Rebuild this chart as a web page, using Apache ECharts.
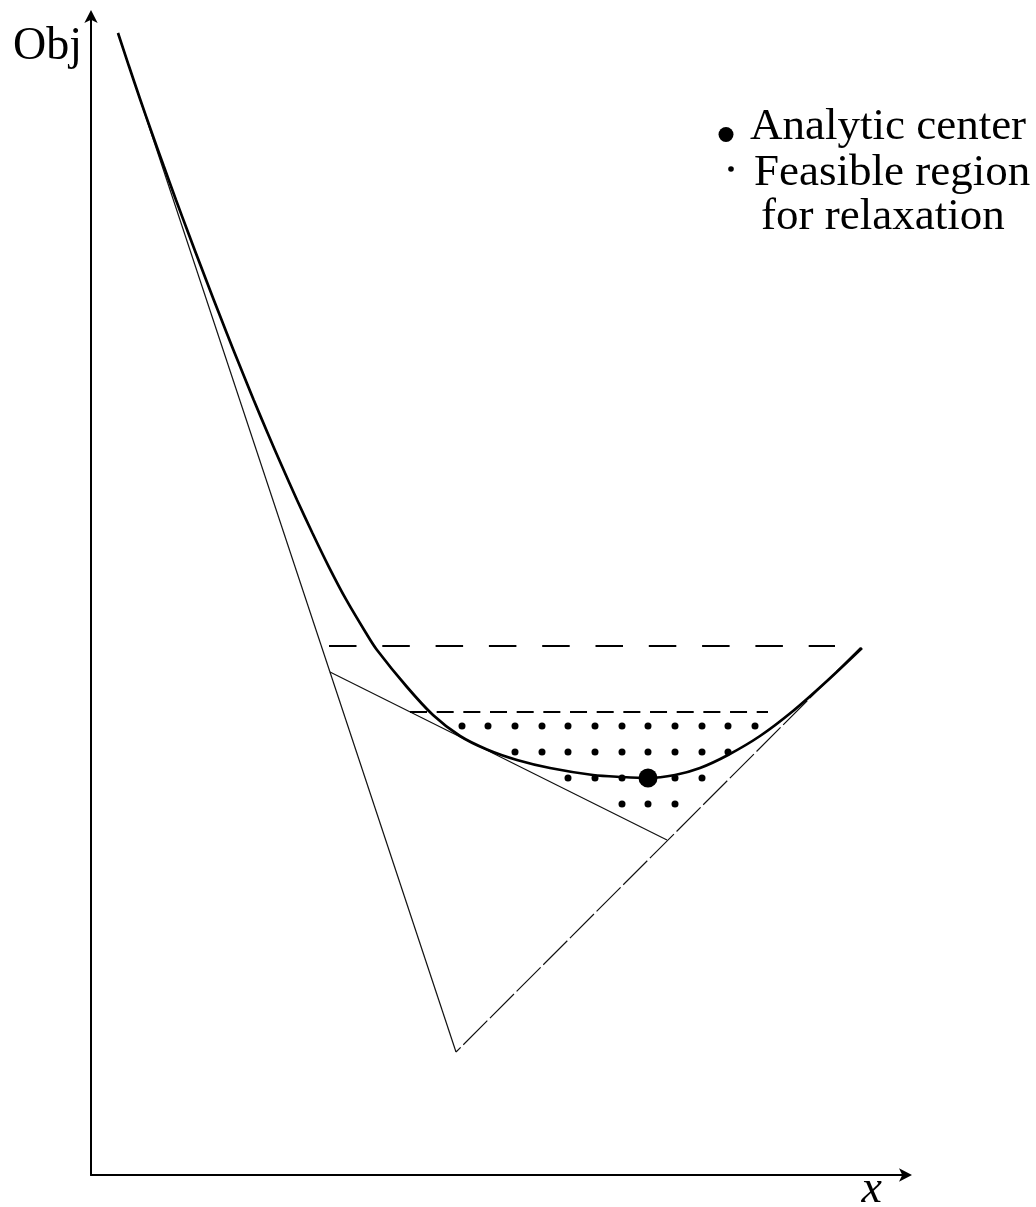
<!DOCTYPE html>
<html>
<head>
<meta charset="utf-8">
<script src="https://cdn.jsdelivr.net/npm/echarts@6/dist/echarts.min.js"></script>
<style>
html,body{margin:0;padding:0;background:#fff;width:1036px;height:1207px;overflow:hidden;}
#chart{position:absolute;left:0;top:0;width:1036px;height:1207px;overflow:hidden;}
</style>
</head>
<body>
<div id="chart"></div>
<script>
// ---- data (x, Obj) in chart units ----
const curveX = [27, 38, 49.3, 60.9, 72.8, 84.9, 97.3, 109.9, 122.7, 135.7, 149, 162.6, 176.6, 191, 205.9, 221.4, 237.6, 255.2, 275, 286, 316, 342, 369, 396, 426, 459, 502, 531, 557, 584, 609, 637, 669, 702, 736, 771];
const curveY = [1142, 1108.7, 1075.3, 1042, 1008.7, 975.3, 942, 908.7, 875.3, 842, 808.7, 775.3, 742, 708.7, 675.3, 642, 608.7, 575.3, 542, 525, 488, 460, 439, 425.5, 415, 407, 400, 398, 397, 400, 407, 420, 439, 464, 494, 527];

const steepLine = [[27, 1142], [365, 123]];
const tangentLine = [[239, 503], [576, 335]];
const diagDashed = [[365, 123], [771, 529]];
const upperBound = [[238, 529], [744, 529]];
const lowerBound = [[319, 463], [677, 463]];

const rowY = [449, 423, 397, 371];
const row1X = [371, 397, 424, 451, 477, 504, 531, 557, 584, 611, 637, 664];
const row2X = [424, 451, 477, 504, 531, 557, 584, 611, 637];
const row3X = [477, 504, 531, 584, 611];
const row4X = [531, 557, 584];
const analyticCenter = [[557, 397]];

const xName = 'x';
const yName = 'Obj';
const legendLabels = ['Analytic center', 'Feasible region', 'for relaxation'];

// ---- build ----
const curve = curveX.map((x, i) => [x, curveY[i]]);
const feasible = []
  .concat(row1X.map(x => [x, rowY[0]]))
  .concat(row2X.map(x => [x, rowY[1]]))
  .concat(row3X.map(x => [x, rowY[2]]))
  .concat(row4X.map(x => [x, rowY[3]]));

const FONT = '"Liberation Serif", "DejaVu Serif", serif';
const LFONT = '45px ' + FONT;

const axisCommon = {
  type: 'value',
  axisLine: { show: true, onZero: false, symbol: ['none', 'arrow'], symbolSize: [10, 13], symbolOffset: [0, 3],
              lineStyle: { color: '#000', width: 2 } },
  axisTick: { show: false },
  axisLabel: { show: false },
  splitLine: { show: false }
};

const chart = echarts.init(document.getElementById('chart'), null, { renderer: 'canvas', width: 1036, height: 1207 });
chart.setOption({
  animation: false,
  backgroundColor: '#fff',
  grid: { left: 91, top: 13, right: 127, bottom: 32, containLabel: false, outerBoundsMode: 'none' },
  xAxis: Object.assign({}, axisCommon, {
    min: 0, max: 818,
    name: xName, nameLocation: 'end', nameGap: 0,
    nameTextStyle: { fontFamily: FONT, fontSize: 46, fontStyle: 'italic', color: '#000',
                     align: 'right', verticalAlign: 'top', lineHeight: 30, padding: [0, 27, 0, 0] }
  }),
  yAxis: Object.assign({}, axisCommon, {
    min: 0, max: 1162,
    name: yName, nameLocation: 'end', nameGap: 0,
    nameTextStyle: { fontFamily: FONT, fontSize: 46, color: '#000',
                     align: 'right', verticalAlign: 'top', lineHeight: 46, padding: [11, 9, 0, 0] }
  }),
  series: [
    { type: 'line', data: steepLine, showSymbol: false, silent: true,
      lineStyle: { color: '#111', width: 1.2 } },
    { type: 'line', data: tangentLine, showSymbol: false, silent: true,
      lineStyle: { color: '#111', width: 1.2 } },
    { type: 'line', data: diagDashed, showSymbol: false, silent: true,
      lineStyle: { color: '#111', width: 1.2, type: [34, 3.7], dashOffset: 27.4 } },
    { type: 'line', data: upperBound, showSymbol: false, silent: true,
      lineStyle: { color: '#000', width: 2, type: [27.5, 25.8] } },
    { type: 'line', data: lowerBound, showSymbol: false, silent: true,
      lineStyle: { color: '#000', width: 2, type: [17, 9.67] } },
    { type: 'scatter', name: 'Feasible region for relaxation', data: feasible,
      symbol: 'circle', symbolSize: 7, itemStyle: { color: '#000', opacity: 1 }, silent: true },
    { type: 'line', name: 'Obj', data: curve, showSymbol: false, silent: true,
      smooth: 0.3,
      lineStyle: { color: '#000', width: 2.7 } },
    { type: 'scatter', name: 'Analytic center', data: analyticCenter,
      symbol: 'circle', symbolSize: 19, itemStyle: { color: '#000', opacity: 1 }, silent: true, z: 5 }
  ],
  graphic: [
    { type: 'circle', shape: { cx: 726, cy: 134.5, r: 7.5 }, style: { fill: '#000' } },
    { type: 'text', x: 750, y: 105, style: { text: legendLabels[0], font: LFONT, fill: '#000', verticalAlign: 'top', textVerticalAlign: 'top' } },
    { type: 'circle', shape: { cx: 731, cy: 169, r: 2.8 }, style: { fill: '#000' } },
    { type: 'text', x: 754, y: 151, style: { text: legendLabels[1], font: LFONT, fill: '#000', verticalAlign: 'top', textVerticalAlign: 'top' } },
    { type: 'text', x: 761, y: 195, style: { text: legendLabels[2], font: LFONT, fill: '#000', verticalAlign: 'top', textVerticalAlign: 'top' } }
  ]
});
</script>
</body>
</html>
